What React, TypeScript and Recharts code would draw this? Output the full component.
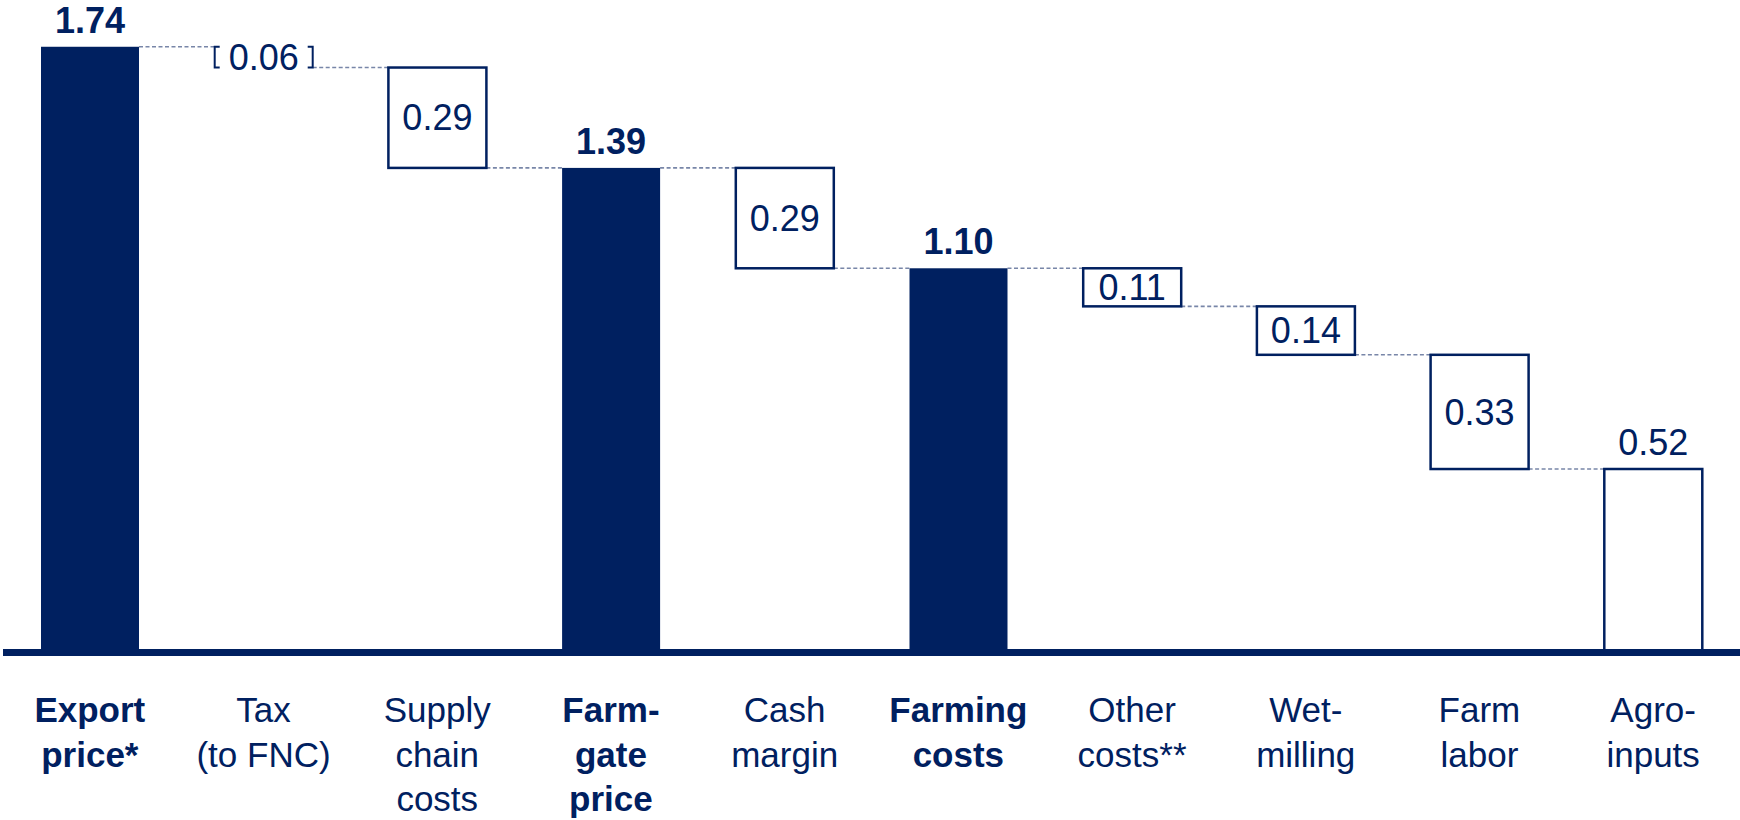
import { BarChart, Bar, XAxis, YAxis, LabelList } from "recharts";

// coffee value chain, USD/lb
const categories = [
  "Export\nprice*",
  "Tax\n(to FNC)",
  "Supply\nchain\ncosts",
  "Farm-\ngate\nprice",
  "Cash\nmargin",
  "Farming\ncosts",
  "Other\ncosts**",
  "Wet-\nmilling",
  "Farm\nlabor",
  "Agro-\ninputs",
];
const values = [1.74, 0.06, 0.29, 1.39, 0.29, 1.1, 0.11, 0.14, 0.33, 0.52];
// total = full bar from zero, step = drop from previous level, final = last remaining piece
const kinds = ["total", "step", "step", "total", "step", "total", "step", "step", "step", "final"];

const NAVY = "#002060";
const DASH = "#7886a8";
const FONT = '"Liberation Sans", Arial, sans-serif';

const W = 1740;
const H = 820;
const M = { top: 26, right: 0, left: 3, bottom: 0 };
const BAR_W = 98;
const BAND = (W - M.left - M.right) / categories.length;

// running level -> base of each floating piece
let level = 0;
const data = categories.map((name, i) => {
  const v = values[i];
  let base = 0;
  if (kinds[i] === "total") {
    level = v;
  } else {
    level = level - v;
    base = kinds[i] === "final" ? 0 : level;
  }
  return { name, base, value: v, kind: kinds[i] };
});

const WaterfallShape = (props: any) => {
  const { x, y, width, height, index } = props;
  const kind = kinds[index];
  const last = index === categories.length - 1;
  const joinY = kind === "total" ? y : y + height;
  const gap = BAND - width;
  let mark;
  if (kind === "total") {
    mark = <rect x={x} y={y} width={width} height={height} fill={NAVY} />;
  } else if (kind === "final") {
    // open at the bottom, sits on the axis
    mark = (
      <path
        d={`M${x},${y + height + 2} V${y} H${x + width} V${y + height + 2}`}
        fill="#fff"
        stroke={NAVY}
        strokeWidth={2.5}
      />
    );
  } else if (height < 30) {
    // too thin for a box: draw brackets
    const t = 5;
    mark = (
      <g stroke={NAVY} strokeWidth={2} fill="none">
        <path d={`M${x + t},${y} H${x} V${y + height} H${x + t}`} />
        <path d={`M${x + width - t},${y} H${x + width} V${y + height} H${x + width - t}`} />
      </g>
    );
  } else {
    mark = (
      <rect x={x} y={y} width={width} height={height} fill="#fff" stroke={NAVY} strokeWidth={2.5} />
    );
  }
  return (
    <g>
      {!last && (
        <line
          x1={x + width}
          x2={x + width + gap}
          y1={joinY}
          y2={joinY}
          stroke={DASH}
          strokeWidth={1.6}
          strokeDasharray="4 2.5"
        />
      )}
      {mark}
    </g>
  );
};

const ValueLabel = (props: any) => {
  const { x, y, width, height, value, index } = props;
  const kind = kinds[index];
  const cx = x + width / 2;
  const txt = Number(value).toFixed(2);
  if (kind === "step") {
    return (
      <text x={cx} y={y + height / 2} dy="0.35em" textAnchor="middle" fill={NAVY} fontSize={36} fontFamily={FONT}>
        {txt}
      </text>
    );
  }
  return (
    <text
      x={cx}
      y={y - 14}
      textAnchor="middle"
      fill={NAVY}
      fontSize={36}
      fontFamily={FONT}
      fontWeight={kind === "total" ? 700 : 400}
    >
      {txt}
    </text>
  );
};

const CategoryTick = (props: any) => {
  const { x, y, payload } = props;
  const lines = String(payload.value).split("\n");
  const bold = kinds[payload.index] === "total";
  return (
    <text x={x} y={y} textAnchor="middle" fill={NAVY} fontSize={35} fontFamily={FONT} fontWeight={bold ? 700 : 400}>
      {lines.map((l, i) => (
        <tspan key={i} x={x} dy={i === 0 ? 69.5 : 44.5}>
          {l}
        </tspan>
      ))}
    </text>
  );
};

export default function App() {
  return (
    <div style={{ position: "absolute", left: 0, top: 0, width: W, height: H, background: "#fff" }}>
      <BarChart width={W} height={H} data={data} margin={M}>
        <XAxis
          dataKey="name"
          interval={0}
          height={167.5}
          tickLine={false}
          tickSize={0}
          tickMargin={0}
          axisLine={{ stroke: NAVY, strokeWidth: 7 }}
          tick={<CategoryTick />}
        />
        <YAxis hide domain={[-0.0101, 1.8]} />
        <Bar dataKey="base" stackId="w" fill="none" barSize={BAR_W} isAnimationActive={false} />
        <Bar dataKey="value" stackId="w" barSize={BAR_W} shape={<WaterfallShape />} isAnimationActive={false}>
          <LabelList dataKey="value" content={<ValueLabel />} />
        </Bar>
      </BarChart>
    </div>
  );
}
